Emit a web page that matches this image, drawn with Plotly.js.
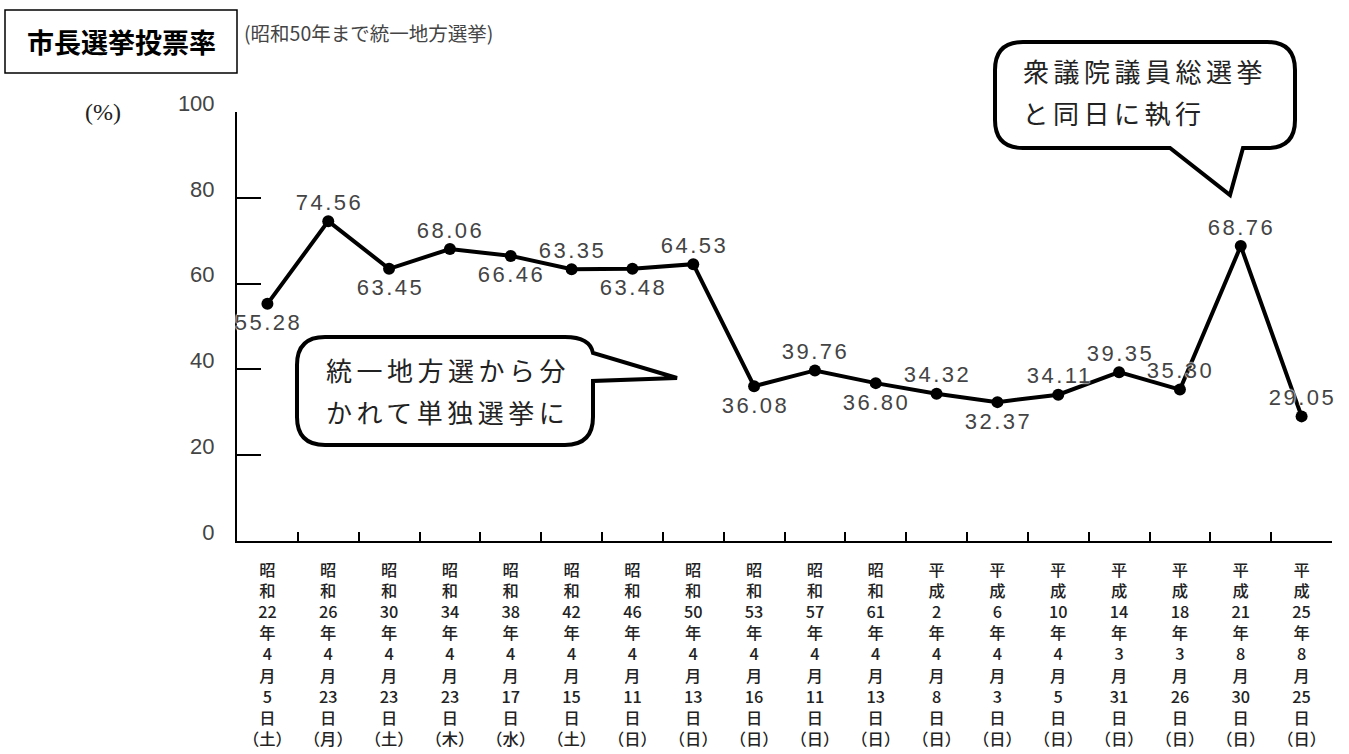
<!DOCTYPE html>
<html>
<head>
<meta charset="utf-8">
<script src="https://cdn.plot.ly/plotly-3.0.1.min.js"></script>
<style>
html,body{margin:0;padding:0;background:#fff;}
#chart{width:1349px;height:754px;}
</style>
</head>
<body>
<div id="chart"></div>
<script>
// ---- data ----
const eras = ['昭和','昭和','昭和','昭和','昭和','昭和','昭和','昭和','昭和','昭和','昭和','平成','平成','平成','平成','平成','平成','平成'];
const years = [22,26,30,34,38,42,46,50,53,57,61,2,6,10,14,18,21,25];
const months = [4,4,4,4,4,4,4,4,4,4,4,4,4,4,3,3,8,8];
const days = [5,23,23,23,17,15,11,13,16,11,13,8,3,5,31,26,30,25];
const weekdays = ['土','月','土','木','水','土','日','日','日','日','日','日','日','日','日','日','日','日'];
const turnout = [55.28,74.56,63.45,68.06,66.46,63.35,63.48,64.53,36.08,39.76,36.80,34.32,32.37,34.11,39.35,35.30,68.76,29.05];
const labelSide = ['below','above','below','above','below','above','below','above','below','above','below','above','below','above','above','above','above','above'];
const yTicks = [0,20,40,60,80,100];

const titleText = '市長選挙投票率';
const subtitleText = '(昭和50年まで統一地方選挙)';
const unitText = '(%)';
const note1 = ['統一地方選から分','かれて単独選挙に'];
const note2 = ['衆議院議員総選挙','と同日に執行'];

// ---- derived ----
const categories = eras.map((e,i)=> e + years[i] + '年' + months[i] + '月' + days[i] + '日（' + weekdays[i] + '）');
const tickText = eras.map((e,i)=> [e[0], e[1], String(years[i]), '年', String(months[i]), '月', String(days[i]), '日', '（'+weekdays[i]+'）'].join('<br>'));

// plot area geometry (pixels) for decorations
const L = 237, R = 1332, T = 112, B = 541;
const px = x => (x - L) / (R - L);
const py = y => (B - y) / (B - T);

const trace = {
  type: 'scatter',
  mode: 'lines+markers',
  x: categories,
  y: turnout,
  line: {color: '#000', width: 4},
  marker: {color: '#000', size: 12},
  hoverinfo: 'skip',
  cliponaxis: false
};

const annotations = [];
// data labels
categories.forEach((c,i)=>{
  annotations.push({
    x: c, y: turnout[i], xref: 'x', yref: 'y',
    text: turnout[i].toFixed(2),
    showarrow: false,
    xanchor: 'center', yanchor: 'middle',
    xshift: 1,
    yshift: labelSide[i] === 'above' ? 19 : -19,
    font: {family: 'Liberation Sans, Arial, sans-serif', size: 22, color: '#444',
           shadow: '0 0 2px #fff, 0 0 2px #fff, 0 0 2px #fff'},
    name: 'datalabel'
  });
});
// title
annotations.push({xref:'paper', yref:'paper', x: px(121), y: py(42), text: '<b>'+titleText+'</b>', showarrow:false,
  xanchor:'center', yanchor:'middle', font:{family:'Noto Sans CJK JP', size:27, color:'#000'}});
annotations.push({xref:'paper', yref:'paper', x: px(242), y: py(33), text: subtitleText, showarrow:false,
  xanchor:'left', yanchor:'middle', font:{family:'Noto Sans CJK JP', size:19.5, color:'#444'}});
annotations.push({xref:'paper', yref:'paper', x: px(103), y: py(112), text: unitText, showarrow:false,
  xanchor:'center', yanchor:'middle', font:{family:'Liberation Serif, serif', size:24, color:'#222'}});
// callouts (letter-spaced text, centred so that the left edge lands where wanted)
const CFS = 26, CLS = 4.5;
const calloutFont = {family:'Noto Sans CJK JP', size:CFS, color:'#222'};
function calloutLine(text, left, cy){
  const n = Array.from(text).length;
  const w = n*CFS + (n-1)*CLS;
  annotations.push({xref:'paper', yref:'paper', x: px(left + w/2), y: py(cy), text: text, showarrow:false,
    xanchor:'center', yanchor:'middle', font: calloutFont, name:'callout'});
}
calloutLine(note1[0], 328, 369);
calloutLine(note1[1], 328, 411);
calloutLine(note2[0], 1025, 70);
calloutLine(note2[1], 1025, 112);

function pathFrom(cmds){
  return cmds.map(c=>{
    const l = c[0]; const nums = c.slice(1);
    const out = [];
    for(let k=0;k<nums.length;k+=2){ out.push(px(nums[k]).toFixed(5)+','+py(nums[k+1]).toFixed(5)); }
    return l + out.join(' ');
  }).join(' ') + ' Z';
}

const r = 28;
const bubble1 = pathFrom([
  ['M', 297+r, 337],
  ['L', 565, 337],
  ['Q', 590, 337, 593, 353],
  ['L', 677, 378],
  ['L', 593, 381],
  ['L', 593, 445-r],
  ['Q', 593, 445, 593-r, 445],
  ['L', 297+r, 445],
  ['Q', 297, 445, 297, 445-r],
  ['L', 297, 337+r],
  ['Q', 297, 337, 297+r, 337]
]);
const bubble2 = pathFrom([
  ['M', 995+r, 42],
  ['L', 1295-r, 42],
  ['Q', 1295, 42, 1295, 42+r],
  ['L', 1295, 148-r],
  ['Q', 1295, 148, 1295-r, 148],
  ['L', 1243, 148],
  ['L', 1230, 195],
  ['L', 1170, 148],
  ['L', 995+r, 148],
  ['Q', 995, 148, 995, 148-r],
  ['L', 995, 42+r],
  ['Q', 995, 42, 995+r, 42]
]);

const shapes = [
  {type:'rect', xref:'paper', yref:'paper', x0:px(5), x1:px(237), y0:py(10), y1:py(73), line:{color:'#000', width:1.5}, fillcolor:'rgba(0,0,0,0)', layer:'above'},
  {type:'path', xref:'paper', yref:'paper', path: bubble1, line:{color:'#000', width:4}, fillcolor:'#fff', layer:'above'},
  {type:'path', xref:'paper', yref:'paper', path: bubble2, line:{color:'#000', width:4}, fillcolor:'#fff', layer:'above'}
];

const layout = {
  width: 1349, height: 754,
  margin: {l: L, r: 1349 - R, t: T, b: 754 - B, pad: 0},
  paper_bgcolor: '#fff', plot_bgcolor: '#fff',
  showlegend: false,
  xaxis: {
    type: 'category',
    range: [-0.5, categories.length - 0.5],
    tickmode: 'array', tickvals: categories, ticktext: tickText,
    tickson: 'boundaries',
    ticks: 'inside', ticklen: 9, tickwidth: 2, tickcolor: '#000',
    showline: true, linecolor: '#000', linewidth: 2,
    showgrid: false, zeroline: false,
    tickangle: 0,
    ticklabelstandoff: 13,
    tickfont: {family: 'Noto Sans CJK JP', size: 16.3, color: '#222', weight: 500},
    fixedrange: true
  },
  yaxis: {
    range: [0, 100],
    tickmode: 'array', tickvals: yTicks,
    ticks: 'inside', ticklen: 24, tickwidth: 2, tickcolor: '#000',
    showline: true, linecolor: '#000', linewidth: 2,
    showgrid: false, zeroline: false,
    ticklabelstandoff: 16,
    ticklabelshift: -9,
    tickfont: {family: 'Liberation Sans, Arial, sans-serif', size: 22, color: '#444'},
    fixedrange: true
  },
  annotations: annotations,
  shapes: shapes
};

Plotly.newPlot('chart', [trace], layout, {staticPlot: true, displayModeBar: false}).then(()=>{
  document.querySelectorAll('#chart .annotation').forEach(g=>{
    const idx = +g.getAttribute('data-index');
    const a = annotations[idx];
    const t = g.querySelector('text.annotation-text');
    if(!t || !a) return;
    if(a.name === 'callout') t.style.letterSpacing = CLS + 'px';
    if(a.name === 'datalabel') t.style.letterSpacing = '2.5px';
  });
});
</script>
</body>
</html>
